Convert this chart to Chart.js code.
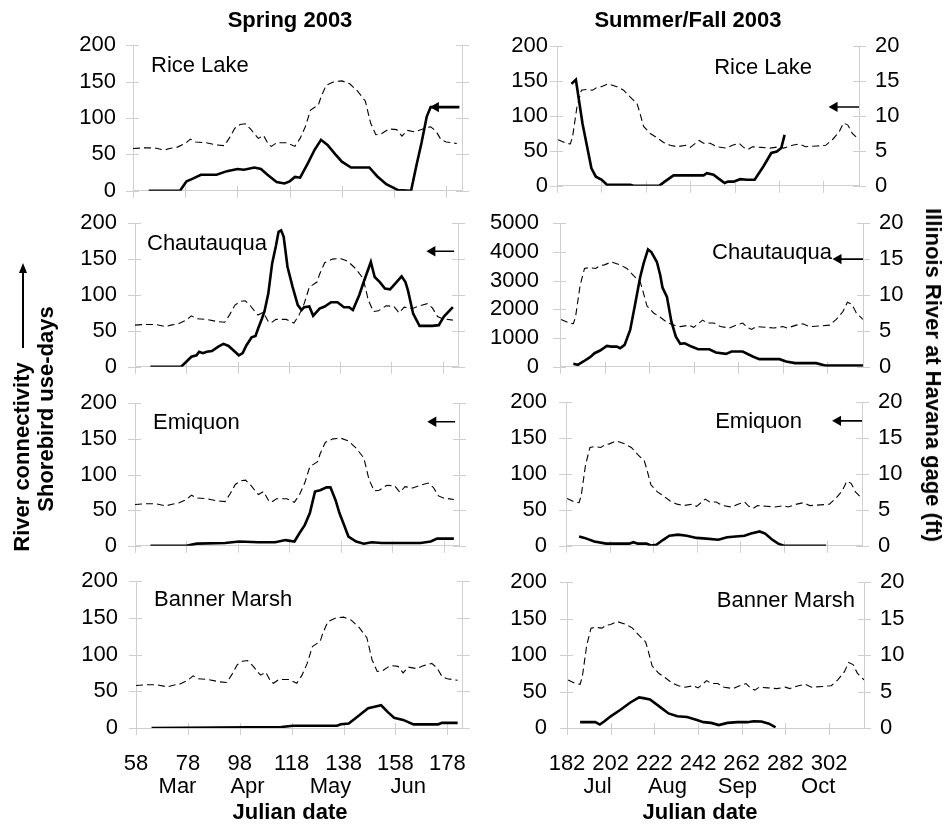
<!DOCTYPE html>
<html>
<head>
<meta charset="utf-8">
<script src="https://cdn.jsdelivr.net/npm/chart.js@4.4.1/dist/chart.umd.min.js"></script>
<style>
  html, body { margin: 0; padding: 0; background: #fff; overflow: hidden; }
  #wrap { position: relative; width: 944px; height: 825px; font-family: "Liberation Sans", Arial, sans-serif; color: #000; }
  canvas { position: absolute; }
  .lbl { position: absolute; font-size: 22px; white-space: nowrap; line-height: 1; }
  .b { font-weight: bold; }
</style>
</head>
<body>
<div id="wrap"></div>
<script>
Chart.defaults.font.family = '"Liberation Sans", Arial, sans-serif';
Chart.defaults.font.size = 22;
Chart.defaults.color = '#000';
Chart.defaults.animation = false;

const gridGrey = '#cfcfcf';

// tick labels
const springTicks = [58, 78, 98, 118, 138, 158, 178];
const summerTicks = [182, 202, 222, 242, 262, 282, 302];
const springMonths = ['Mar', 'Apr', 'May', 'Jun'];
const springMonthDays = [74, 101, 133, 163];
const summerMonths = ['Jul', 'Aug', 'Sep', 'Oct'];
const summerMonthDays = [196, 228, 260, 297];

// Illinois River at Havana gage (ft)
const springDays = [58, 62, 66, 70, 72, 75, 78, 80, 82, 86, 90, 93, 95, 97, 99, 101, 103, 105, 106, 108, 110, 111, 113, 117, 120, 122, 124, 126, 129, 130, 132, 135, 138, 141, 144, 147, 149, 151, 153, 156, 159, 161, 163, 166, 169, 172, 174, 176, 178, 182];
const springStage = [5.8, 5.9, 5.9, 5.6, 5.8, 6.0, 6.5, 7.1, 6.7, 6.6, 6.3, 6.2, 7.3, 8.6, 9.1, 9.2, 8.5, 7.6, 7.2, 7.6, 6.3, 6.1, 6.6, 6.6, 6.1, 7.2, 8.8, 11.1, 11.8, 12.9, 14.5, 15.0, 15.1, 14.7, 13.7, 12.3, 9.3, 7.7, 7.8, 8.5, 8.4, 7.5, 8.3, 8.1, 8.5, 8.8, 8.2, 7.0, 6.7, 6.5];
const summerDays = [182.5, 186, 188, 189, 191, 193, 195, 198, 200, 202, 205, 209, 212, 215, 218, 219, 221, 224, 227, 230, 233, 236, 240, 242, 246, 248, 251, 254, 258, 261, 264, 266, 268, 270, 274, 278, 282, 284, 288, 291, 294, 299, 303, 306, 309, 311, 313, 315, 318];
const summerStage = [6.6, 6.1, 6.0, 7.0, 11.3, 13.7, 13.8, 13.7, 14.1, 14.2, 14.6, 14.2, 13.7, 12.7, 11.8, 10.8, 8.5, 7.5, 6.9, 6.2, 5.8, 5.6, 5.8, 5.5, 6.5, 6.1, 6.1, 5.6, 5.4, 5.8, 6.1, 5.5, 5.2, 5.6, 5.5, 5.4, 5.6, 5.4, 5.8, 6.0, 5.6, 5.7, 5.8, 6.6, 7.7, 9.0, 8.7, 7.5, 6.6];

// shorebird use-days, spring
const riceSpringDays = [64, 76, 78.5, 80.5, 84, 90, 94, 98, 100.5, 104.5, 107, 109.5, 113, 116, 118, 120, 122, 125, 127.5, 130, 132.5, 135.5, 138, 141.5, 148.5, 151.5, 155, 159.5, 164.5, 166.5, 168.5, 170.5, 172, 183];
const riceSpring = [0, 0, 13, 16, 22, 22, 27, 30, 29, 32, 30, 22, 12, 10, 13, 19, 18, 38, 56, 70, 63, 50, 40, 32, 32, 20, 9, 1, 0, 34, 66, 102, 115, 115];
const chautSpringDays = [64, 76, 78, 80, 82, 83, 84.5, 86, 88, 90.5, 92.5, 94.5, 97, 98.5, 100, 101.5, 103.5, 105, 106, 107.5, 108.5, 110, 111.5, 113, 114, 115, 116, 117.5, 119.5, 121.5, 123, 124, 126, 127.5, 130, 132, 134.5, 137, 139.5, 141.5, 143, 145.5, 147, 150, 151.5, 153.5, 155.5, 157.5, 159.5, 162, 163.5, 164.5, 166.5, 169, 174, 176.5, 178.5, 182];
const chautSpring = [0, 0, 7, 14, 16, 21, 19, 21, 22, 28, 32, 29, 21, 16, 19, 30, 41, 43, 53, 67, 77, 102, 144, 169, 188, 190, 181, 139, 111, 86, 79, 83, 84, 71, 81, 84, 90, 90, 83, 83, 79, 100, 116, 146, 125, 118, 109, 108, 116, 126, 118, 106, 74, 57, 57, 58, 70, 83];
const emiqSpringDays = [64, 78, 82, 93, 98.5, 106, 112.5, 116.5, 120, 122, 124, 126, 128, 130, 132.5, 134, 136, 137.5, 139, 141, 144, 147, 150, 154, 169, 173, 175.5, 182];
const emiqSpring = [0, 0, 3, 4, 6, 5, 5, 8, 6, 18, 29, 46, 76, 78, 82, 82, 64, 46, 32, 13, 6, 3, 5, 4, 4, 6, 10, 10];
const bannerSpringDays = [64, 114, 118.5, 135.5, 137, 140, 142.5, 147.5, 150, 152.5, 155, 157.5, 161, 165, 174.5, 176, 182];
const bannerSpring = [0, 1.4, 3, 3, 5, 6, 13, 27, 29, 31, 22, 14, 11, 5, 5, 7, 7];

// shorebird use-days, summer/fall
const riceSummerDays = [188.5, 190.5, 193.5, 197.5, 199.5, 202, 204.5, 215, 216.5, 228, 230.5, 234.5, 248, 249.5, 252.5, 254.5, 257.5, 259, 261.5, 264.5, 267.5, 271, 275, 278.5, 281, 283, 284.5];
const riceSummer = [146, 152, 89, 25, 13, 9, 1.5, 1.5, 0, 0, 6, 15, 15, 18, 16, 11, 4, 6, 6, 9.5, 8.6, 8.6, 28, 47, 49, 54, 73];
const chautSummerDays = [188, 190, 192.5, 195.5, 197.5, 200, 203, 205, 207.5, 209, 211, 213.5, 215.5, 218, 219.5, 221.5, 223, 225.5, 227, 228, 230, 232, 234, 236, 238, 241, 244, 249, 252, 256.5, 259, 264, 268.5, 271.5, 280.5, 283.5, 287.5, 297, 301, 318];
const chautSummer = [104, 69, 185, 335, 473, 566, 727, 704, 704, 647, 762, 1282, 2090, 3129, 3591, 4088, 3995, 3649, 3187, 2760, 2436, 1570, 1051, 797, 820, 704, 612, 612, 497, 450, 531, 531, 358, 266, 266, 185, 127, 127, 46, 46];
const emiqSummerDays = [188, 190.5, 195, 200.5, 211, 213, 215, 219, 221, 223.5, 226.5, 229.5, 233.5, 237.5, 242, 246.5, 252, 256, 264, 267, 271, 273.5, 276.5, 279.5, 282, 301.5];
const emiqSummer = [13, 11, 6, 3, 3, 5, 3, 3, 0.5, 1.5, 8, 14, 15.5, 14, 11, 10, 8.5, 12, 14, 17, 20, 17, 9, 3, 0, 0];
const bannerSummerDays = [188, 195, 197, 199, 202, 206.5, 211, 215, 217, 220, 225, 228.5, 232.5, 237, 241.5, 244.5, 248, 251.5, 255.5, 260, 264.5, 267.5, 271, 274.5, 277.5];
const bannerSummer = [8, 8, 4.7, 9, 16, 25, 35, 42, 41, 39, 28, 20, 16, 15, 11, 8, 7, 4, 7, 8, 8, 9.3, 9, 6, 1];

// river connectivity level (ft) marked by the arrows
const connSpring = [11.5, 16.1, 17.4, null];
const connSummer = [11.3, 15.0, 17.4, null];

const pairs = (xs, ys) => xs.map((x, i) => ({ x: x, y: ys[i] }));

const cols = [
  { x: 0, w: 470, min: 58, max: 184, ticks: springTicks, months: springMonths, monthDays: springMonthDays,
    stage: pairs(springDays, springStage), arrow: [174, 182.5], rightLabels: false },
  { x: 470, w: 474, min: 182, max: 318, ticks: summerTicks, months: summerMonths, monthDays: summerMonthDays,
    stage: pairs(summerDays, summerStage), arrow: [307, 318], rightLabels: true }
];

// plot boxes (page pixels) per column / row
const boxes = [
  [{ top: 45, bottom: 191, left: 133, right: 462, pad: 17 },
   { top: 223, bottom: 367, left: 135, right: 458, pad: 18 },
   { top: 403, bottom: 546, left: 135, right: 459, pad: 18 },
   { top: 581, bottom: 728, left: 136, right: 462, pad: 18 }],
  [{ top: 46, bottom: 186, left: 557, right: 859, pad: 9 },
   { top: 223, bottom: 367, left: 560, right: 863, pad: 21 },
   { top: 402, bottom: 546, left: 566, right: 862, pad: 19 },
   { top: 582, bottom: 728, left: 567, right: 864, pad: 20 }]
];

const panels = [
  { col: 0, row: 0, birds: pairs(riceSpringDays, riceSpring), yMax: 200, yStep: 50, level: connSpring[0] },
  { col: 0, row: 1, birds: pairs(chautSpringDays, chautSpring), yMax: 200, yStep: 50, level: connSpring[1] },
  { col: 0, row: 2, birds: pairs(emiqSpringDays, emiqSpring), yMax: 200, yStep: 50, level: connSpring[2] },
  { col: 0, row: 3, birds: pairs(bannerSpringDays, bannerSpring), yMax: 200, yStep: 50, level: connSpring[3] },
  { col: 1, row: 0, birds: pairs(riceSummerDays, riceSummer), yMax: 200, yStep: 50, level: connSummer[0] },
  { col: 1, row: 1, birds: pairs(chautSummerDays, chautSummer), yMax: 5000, yStep: 1000, level: connSummer[1] },
  { col: 1, row: 2, birds: pairs(emiqSummerDays, emiqSummer), yMax: 200, yStep: 50, level: connSummer[2] },
  { col: 1, row: 3, birds: pairs(bannerSummerDays, bannerSummer), yMax: 200, yStep: 50, level: connSummer[3] }
];

// Excel style tick marks crossing the axes
const crossTicks = {
  id: 'crossTicks',
  beforeDatasetsDraw(chart) {
    const ctx = chart.ctx, a = chart.chartArea;
    ctx.save();
    ctx.strokeStyle = gridGrey;
    ctx.lineWidth = 1;
    Object.values(chart.scales).forEach(s => {
      if (s.id === 'xm') return;
      s.ticks.forEach(t => {
        const p = Math.round(s.getPixelForValue(t.value)) + 0.5;
        ctx.beginPath();
        if (s.id === 'x') { ctx.moveTo(p, a.bottom - 5); ctx.lineTo(p, a.bottom + 7); }
        else if (s.id === 'y') { ctx.moveTo(a.left - 7, p); ctx.lineTo(a.left + 6, p); }
        else { ctx.moveTo(a.right - 6, p); ctx.lineTo(a.right + 7, p); }
        ctx.stroke();
      });
    });
    ctx.restore();
  }
};

const wrap = document.getElementById('wrap');

function makeConfig(p, c, g, last, padTop, xh, mh) {
  const datasets = [
    { data: p.birds, yAxisID: 'y', borderColor: '#000', borderWidth: 2.6, pointRadius: 0, tension: 0 },
    { data: c.stage, yAxisID: 'y2', borderColor: '#000', borderWidth: 1.1, borderDash: [7, 4], pointRadius: 0, tension: 0 }
  ];
  if (p.level != null) {
    datasets.push({
      data: [{ x: c.arrow[0], y: p.level }, { x: c.arrow[1], y: p.level }],
      yAxisID: 'y2', borderColor: '#000', borderWidth: 1.6,
      pointStyle: 'triangle', pointRadius: [6, 0], pointRotation: [-90, 0],
      pointBackgroundColor: '#000', pointBorderColor: '#000', pointBorderWidth: 0
    });
  }
  const scales = {
    x: {
      type: 'linear', position: 'bottom', min: c.min, max: c.max, weight: 0,
      afterBuildTicks: s => { s.ticks = c.ticks.map(v => ({ value: v })); },
      afterFit: s => { s.height = xh; },
      grid: { display: false, drawTicks: false },
      border: { display: true, color: gridGrey },
      ticks: { display: last, padding: 23, maxRotation: 0, autoSkip: false, callback: v => String(v) }
    },
    y: {
      position: 'left', min: 0, max: p.yMax,
      afterFit: s => { s.width = g.left - c.x; },
      grid: { display: false, drawTicks: false },
      border: { display: true, color: gridGrey },
      ticks: { stepSize: p.yStep, padding: g.pad, autoSkip: false, callback: v => String(v) }
    },
    y2: {
      position: 'right', min: 0, max: 20,
      afterFit: s => { s.width = c.x + c.w - g.right; },
      grid: { display: false, drawTicks: false },
      border: { display: true, color: gridGrey },
      ticks: { stepSize: 5, padding: 16, autoSkip: false, display: c.rightLabels }
    }
  };
  if (last) {
    scales.xm = {
      type: 'linear', position: 'bottom', min: c.min, max: c.max, weight: 1,
      afterBuildTicks: s => { s.ticks = c.monthDays.map(v => ({ value: v })); },
      afterFit: s => { s.height = mh; },
      grid: { display: false, drawTicks: false },
      border: { display: false },
      ticks: { padding: 0, maxRotation: 0, autoSkip: false, callback: (v, i) => c.months[i] }
    };
  }
  return {
    type: 'line',
    data: { datasets: datasets },
    options: {
      responsive: false,
      maintainAspectRatio: false,
      devicePixelRatio: 1,
      layout: { padding: { top: padTop, left: 0, right: 0, bottom: 0 } },
      plugins: { legend: { display: false }, tooltip: { enabled: false } },
      scales: scales
    },
    plugins: [crossTicks]
  };
}

function build(canvas, w, h, cfg) {
  canvas.width = w; canvas.height = h;
  canvas.style.width = w + 'px';
  canvas.style.height = h + 'px';
  return new Chart(canvas, cfg);
}

panels.forEach(p => {
  const c = cols[p.col], g = boxes[p.col][p.row];
  const last = p.row === 3;
  const padTop = 14, xh = last ? 46 : 16, mh = last ? 30 : 0;
  const h = g.bottom - g.top + padTop + xh + mh;
  const canvas = document.createElement('canvas');
  canvas.style.left = c.x + 'px';
  canvas.style.top = (g.top - padTop) + 'px';
  wrap.appendChild(canvas);

  let ch = build(canvas, c.w, h, makeConfig(p, c, g, last, padTop, xh, mh));
  let a = ch.chartArea;
  const dw = Math.round((g.right - g.left) - (a.right - a.left));
  const dh = Math.round((g.bottom - g.top) - (a.bottom - a.top));
  if (dw || dh) {
    ch.destroy();
    ch = build(canvas, c.w + dw, h + dh, makeConfig(p, c, g, last, padTop, xh, mh));
    a = ch.chartArea;
  }
  canvas.style.left = (g.left - a.left) + 'px';
  canvas.style.top = (g.top - a.top) + 'px';
});

// page texts
function addText(txt, x, y, align, bold, rot) {
  const d = document.createElement('div');
  d.className = 'lbl' + (bold ? ' b' : '');
  d.textContent = txt;
  d.style.left = x + 'px';
  d.style.top = y + 'px';
  let tf = align === 'center' ? 'translate(-50%,-50%)' : align === 'right' ? 'translate(-100%,-50%)' : 'translate(0,-50%)';
  if (rot) tf += ' rotate(' + rot + 'deg)';
  d.style.transform = tf;
  wrap.appendChild(d);
}

addText('Spring 2003', 290, 20, 'center', true);
addText('Summer/Fall 2003', 688, 20, 'center', true);
addText('Julian date', 290, 812, 'center', true);
addText('Julian date', 700, 812, 'center', true);
addText('River connectivity', 22, 457, 'center', true, -90);
addText('Shorebird use-days', 46, 409, 'center', true, -90);
addText('Illinois River at Havana gage (ft)', 933, 375, 'center', true, 90);

addText('Rice Lake', 151, 65, 'left');
addText('Chautauqua', 147, 243, 'left');
addText('Emiquon', 153, 422, 'left');
addText('Banner Marsh', 154, 599, 'left');
addText('Rice Lake', 812, 67, 'right');
addText('Chautauqua', 832, 252, 'right');
addText('Emiquon', 802, 421, 'right');
addText('Banner Marsh', 855, 600, 'right');

// arrow next to "River connectivity"
const shaft = document.createElement('div');
shaft.style.cssText = 'position:absolute;left:22px;top:272px;width:1.5px;height:76px;background:#000;';
wrap.appendChild(shaft);
const head = document.createElement('div');
head.style.cssText = 'position:absolute;left:18.5px;top:263px;width:0;height:0;border-left:4px solid transparent;border-right:4px solid transparent;border-bottom:10px solid #000;';
wrap.appendChild(head);
</script>
</body>
</html>
